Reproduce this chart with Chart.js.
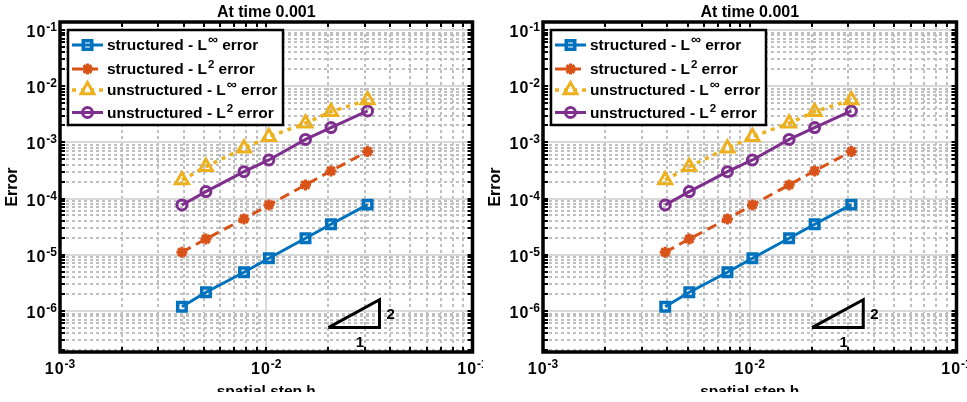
<!DOCTYPE html>
<html>
<head>
<meta charset="utf-8">
<script src="https://cdn.jsdelivr.net/npm/chart.js@4.4.1/dist/chart.umd.min.js"></script>
<style>
    body { margin: 0; background: #fff; width: 967px; height: 402px; overflow: hidden; position: relative; }
    .panel { position: absolute; top: 0; height: 402px; }
</style>
</head>
<body>
<div class="panel" style="left:0;width:483px"><canvas id="left"></canvas></div>
<div class="panel" style="left:483px;width:484px"><canvas id="right"></canvas></div>
<script>
// values (both panels show the same run)
var hValues = [0.0039, 0.0051, 0.0078, 0.0103, 0.0155, 0.0206, 0.031];
var structuredLinf = [1.19e-6, 2.15e-6, 4.89e-6, 8.67e-6, 1.97e-5, 3.49e-5, 7.8e-5];
var structuredL2 = [1.11e-5, 1.91e-5, 4.34e-5, 7.7e-5, 1.75e-4, 3.1e-4, 6.9e-4];
var unstructuredLinf = [2.14e-4, 3.7e-4, 7.85e-4, 1.26e-3, 2.19e-3, 3.52e-3, 5.7e-3];
var unstructuredL2 = [7.7e-5, 1.33e-4, 3.01e-4, 4.86e-4, 1.13e-3, 1.83e-3, 3.62e-3];
// slope 2 reference triangle
var slopeX = [0.02, 0.0354, 0.0354, 0.02];
var slopeY = [5.05e-7, 5.05e-7, 1.58e-6, 5.05e-7];
var slopeLabels = ['2', '1'];

var legendNames = ['structured - L', 'structured - L', 'unstructured - L', 'unstructured - L'];
var legendSups = ['\u221e', '2', '\u221e', '2'];
var legendTail = ' error';
var titleText = 'At time 0.001';
var xTitle = 'spatial step h';
var yTitle = 'Error';
var xRange = [1e-3, 1e-1];
var yRange = [1.86e-7, 0.1387];

var FONT = '"Liberation Sans", Arial, Helvetica, sans-serif';

function pts(xs, ys) {
    return xs.map(function (x, i) { return { x: x, y: ys[i] }; });
}

// 1..9 x 10^n inside a range, like matlab's log grid
function decadeTicks(r) {
    var out = [];
    for (var e = Math.floor(Math.log10(r[0])); e <= Math.ceil(Math.log10(r[1])); e++) {
        for (var m = 1; m < 10; m++) {
            var v = m * Math.pow(10, e);
            if (v >= r[0] * 0.999 && v <= r[1] * 1.001) out.push({ value: v, major: m === 1, exp: e });
        }
    }
    return out;
}

function drawPow(ctx, e, x, y, align) {
    ctx.textAlign = 'left';
    ctx.textBaseline = 'alphabetic';
    ctx.font = 'bold 16px ' + FONT;
    ctx.letterSpacing = '1px';
    var w1 = ctx.measureText('10').width;
    ctx.font = 'bold 12px ' + FONT;
    ctx.letterSpacing = '0px';
    var w2 = ctx.measureText(String(e)).width;
    var left = align === 'right' ? x - w1 - w2 : x - (w1 + w2) / 2;
    ctx.font = 'bold 16px ' + FONT;
    ctx.letterSpacing = '1px';
    ctx.fillText('10', left, y);
    ctx.letterSpacing = '0px';
    ctx.font = 'bold 12px ' + FONT;
    ctx.fillText(String(e), left + w1, y - 6);
}

function gridLine(ctx, major, x1, y1, x2, y2) {
    ctx.strokeStyle = major ? '#d9d9d9' : '#bfbfbf';
    ctx.setLineDash(major ? [] : [3, 3]);
    ctx.beginPath();
    ctx.moveTo(x1, y1);
    ctx.lineTo(x2, y2);
    ctx.stroke();
}

function drawLegend(chart) {
    var ctx = chart.ctx, a = chart.chartArea;
    var bx = a.left + 8, by = a.top + 8, bw = 215, bh = 95;
    var rowY = [15, 39, 60, 82.5];
    ctx.setLineDash([]);
    ctx.fillStyle = '#fff';
    ctx.fillRect(bx, by, bw, bh);
    ctx.lineWidth = 2.5;
    ctx.strokeStyle = '#000';
    ctx.strokeRect(bx, by, bw, bh);
    for (var i = 0; i < 4; i++) {
        var ds = chart.data.datasets[i];
        var y = by + rowY[i];
        ctx.strokeStyle = ds.borderColor;
        ctx.lineWidth = ds.borderWidth;
        ctx.setLineDash(ds.borderDash || []);
        ctx.beginPath();
        ctx.moveTo(bx + 4, y);
        ctx.lineTo(bx + 35, y);
        ctx.stroke();
        ctx.setLineDash([]);
        ctx.lineWidth = ds.pointBorderWidth;
        ctx.fillStyle = 'rgba(255,255,255,0)';
        if (Chart.helpers && Chart.helpers.drawPoint) {
            Chart.helpers.drawPoint(ctx, { pointStyle: ds.pointStyle, radius: ds.pointRadius, borderWidth: ds.pointBorderWidth, rotation: 0 }, bx + 19.5, y);
        }
        var tx = bx + 39;
        ctx.fillStyle = '#000';
        ctx.textAlign = 'left';
        ctx.textBaseline = 'alphabetic';
        ctx.font = 'bold 15.5px ' + FONT;
        ctx.fillText(legendNames[i], tx, y + 5);
        tx += ctx.measureText(legendNames[i]).width + 1;
        ctx.font = (legendSups[i] === '2' ? 'bold 11.5px ' : 'bold 14px ') + FONT;
        ctx.fillText(legendSups[i], tx, y - 1);
        tx += ctx.measureText(legendSups[i]).width;
        ctx.font = 'bold 15.5px ' + FONT;
        ctx.fillText(legendTail, tx, y + 5);
    }
}

var panelPlugin = {
    id: 'panel',
    beforeDatasetsDraw: function (chart) {
        var ctx = chart.ctx, a = chart.chartArea, xs = chart.scales.x, ys = chart.scales.y;
        ctx.save();
        ctx.beginPath();
        ctx.rect(a.left, a.top, a.right - a.left, a.bottom - a.top);
        ctx.clip();
        ctx.lineWidth = 2;
        decadeTicks(xRange).forEach(function (t) {
            var p = Math.round(xs.getPixelForValue(t.value));
            gridLine(ctx, t.major, p, a.top, p, a.bottom);
        });
        decadeTicks(yRange).forEach(function (t) {
            var p = Math.round(ys.getPixelForValue(t.value));
            gridLine(ctx, t.major, a.left, p, a.right, p);
        });
        ctx.restore();
    },
    afterDatasetsDraw: function (chart) {
        var ctx = chart.ctx, a = chart.chartArea, xs = chart.scales.x, ys = chart.scales.y;
        ctx.save();
        // slope labels
        var tx1 = xs.getPixelForValue(slopeX[1]);
        var tyTop = ys.getPixelForValue(slopeY[2]), tyBot = ys.getPixelForValue(slopeY[0]);
        var tx0 = xs.getPixelForValue(slopeX[0]);
        ctx.fillStyle = '#000';
        ctx.font = 'bold 15px ' + FONT;
        ctx.textAlign = 'left';
        ctx.fillText(slopeLabels[0], tx1 + 7, (tyTop + tyBot) / 2 + 5);
        ctx.textAlign = 'center';
        ctx.fillText(slopeLabels[1], (tx0 + tx1) / 2 + 6, tyBot + 19);

        // ticks pointing inward
        ctx.strokeStyle = '#000';
        ctx.lineWidth = 2;
        ctx.setLineDash([]);
        decadeTicks(xRange).forEach(function (t) {
            var p = Math.round(xs.getPixelForValue(t.value));
            ctx.beginPath();
            ctx.moveTo(p, a.bottom); ctx.lineTo(p, a.bottom - 5);
            ctx.moveTo(p, a.top); ctx.lineTo(p, a.top + 5);
            ctx.stroke();
        });
        decadeTicks(yRange).forEach(function (t) {
            var p = Math.round(ys.getPixelForValue(t.value));
            ctx.beginPath();
            ctx.moveTo(a.left, p); ctx.lineTo(a.left + 5, p);
            ctx.moveTo(a.right, p); ctx.lineTo(a.right - 5, p);
            ctx.stroke();
        });
        ctx.lineWidth = 3.5;
        ctx.strokeRect(a.left, a.top, a.right - a.left, a.bottom - a.top);

        // tick labels
        ctx.fillStyle = '#000';
        decadeTicks(xRange).forEach(function (t) {
            if (t.major) drawPow(ctx, t.exp, xs.getPixelForValue(t.value), a.bottom + 22, 'center');
        });
        decadeTicks(yRange).forEach(function (t) {
            if (t.major) drawPow(ctx, t.exp, a.left - 3, ys.getPixelForValue(t.value) + 7, 'right');
        });

        // titles
        var cx = (a.left + a.right) / 2;
        ctx.textAlign = 'center';
        ctx.textBaseline = 'alphabetic';
        ctx.font = 'bold 16px ' + FONT;
        ctx.fillText(titleText, cx, 17);
        ctx.save();
        ctx.beginPath();
        ctx.rect(0, 0, chart.width, 392);
        ctx.clip();
        ctx.font = 'bold 15.5px ' + FONT;
        ctx.fillText(xTitle, cx, 396);
        ctx.restore();
        ctx.save();
        ctx.translate(17, (a.top + a.bottom) / 2);
        ctx.rotate(-Math.PI / 2);
        ctx.font = 'bold 16px ' + FONT;
        ctx.fillText(yTitle, 0, 0);
        ctx.restore();

        drawLegend(chart);
        ctx.restore();
    }
};

function makeChart(id, padRight) {
    return new Chart(document.getElementById(id), {
        type: 'line',
        data: {
            datasets: [{
                label: legendNames[0] + legendSups[0] + legendTail,
                data: pts(hValues, structuredLinf),
                borderColor: '#0072BD',
                borderWidth: 3,
                pointStyle: 'rect',
                pointRadius: 6,
                pointBorderWidth: 3.5,
                pointBackgroundColor: 'rgba(255,255,255,0)'
            }, {
                label: legendNames[1] + legendSups[1] + legendTail,
                data: pts(hValues, structuredL2),
                borderColor: '#D95319',
                borderWidth: 3,
                borderDash: [10, 6],
                pointStyle: 'star',
                pointRadius: 5.5,
                pointBorderWidth: 3,
                pointBackgroundColor: 'rgba(255,255,255,0)'
            }, {
                label: legendNames[2] + legendSups[2] + legendTail,
                data: pts(hValues, unstructuredLinf),
                borderColor: '#EDB120',
                borderWidth: 3.5,
                borderDash: [4, 5],
                pointStyle: 'triangle',
                pointRadius: 7.5,
                pointBorderWidth: 3,
                pointBackgroundColor: 'rgba(255,255,255,0)'
            }, {
                label: legendNames[3] + legendSups[3] + legendTail,
                data: pts(hValues, unstructuredL2),
                borderColor: '#7E2F8E',
                borderWidth: 3,
                pointStyle: 'circle',
                pointRadius: 5,
                pointBorderWidth: 3,
                pointBackgroundColor: 'rgba(255,255,255,0)'
            }, {
                label: 'slope',
                data: pts(slopeX, slopeY),
                borderColor: '#000',
                borderWidth: 3,
                borderJoinStyle: 'miter',
                pointRadius: 0
            }]
        },
        options: {
            responsive: true,
            maintainAspectRatio: false,
            animation: false,
            devicePixelRatio: 1,
            layout: { padding: { left: 60, right: padRight, top: 22, bottom: 50 } },
            plugins: {
                legend: { display: false },
                tooltip: { enabled: false },
                title: { display: false }
            },
            scales: {
                x: { type: 'logarithmic', min: xRange[0], max: xRange[1], display: false },
                y: { type: 'logarithmic', min: yRange[0], max: yRange[1], display: false }
            }
        },
        plugins: [panelPlugin]
    });
}

makeChart('left', 3);
makeChart('right', 7);
</script>
</body>
</html>
